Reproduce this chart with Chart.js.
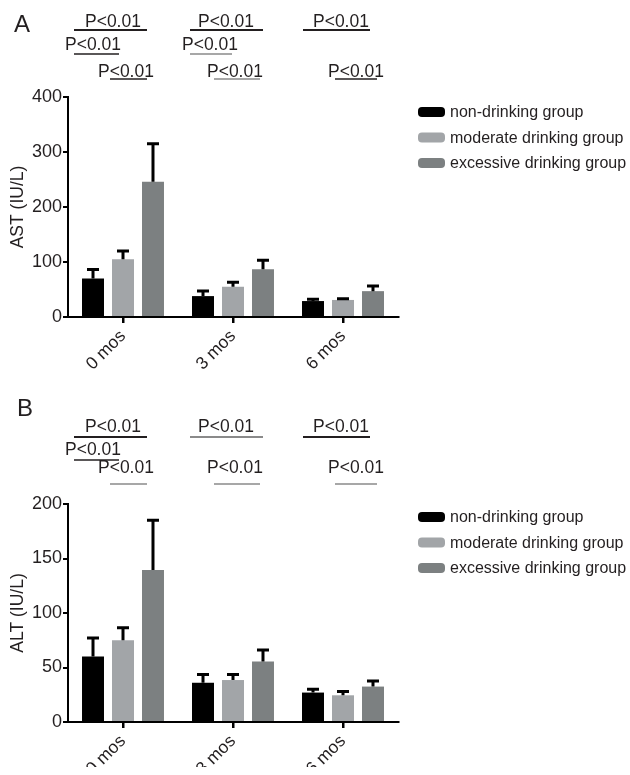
<!DOCTYPE html>
<html>
<head>
<meta charset="utf-8">
<script src="https://cdn.jsdelivr.net/npm/chart.js@4.4.1/dist/chart.umd.min.js"></script>
<style>
  html, body { margin: 0; padding: 0; background: #fff; }
  .panel { position: absolute; left: 0; width: 630px; }
  #panelA { top: 0; height: 390px; }
  #panelB { top: 390px; height: 385px; }
</style>
</head>
<body>
<div class="panel" id="panelA"><canvas id="chartA" width="630" height="390"></canvas></div>
<div class="panel" id="panelB"><canvas id="chartB" width="630" height="385"></canvas></div>
<script>
// kategorier og grupper
const months = ["0 mos", "3 mos", "6 mos"];
const groupNames = ["non-drinking group", "moderate drinking group", "excessive drinking group"];
const groupColors = ["#000000", "#a2a5a8", "#7c8081"];

// AST (IU/L): middelverdi og standardavvik (kun øvre feilstolpe vises)
const astNon = [70, 38, 29];
const astNonSd = [18, 11, 5];
const astModerate = [105, 55, 31];
const astModerateSd = [17, 10, 4];
const astExcessive = [246, 87, 47];
const astExcessiveSd = [71, 18, 11];
const astTicks = [0, 100, 200, 300, 400];

// ALT (IU/L)
const altNon = [60, 36, 27];
const altNonSd = [18, 8.5, 4];
const altModerate = [75, 38.5, 24.5];
const altModerateSd = [12.5, 6, 4.3];
const altExcessive = [139.5, 55.5, 32.5];
const altExcessiveSd = [46.5, 11.5, 6];
const altTicks = [0, 50, 100, 150, 200];

const sigText = "P<0.01";

const FONT = "'Liberation Sans', Arial, Helvetica, sans-serif";
const INK = "#231f20";
Chart.defaults.font.family = FONT;
Chart.defaults.color = INK;

// feilstolper oppover fra hver søyle
const errorBars = {
  id: "errorBars",
  afterDatasetsDraw(chart) {
    const ctx = chart.ctx;
    const y = chart.scales.y;
    ctx.save();
    ctx.strokeStyle = "#000";
    ctx.lineWidth = 3;
    chart.data.datasets.forEach((ds, i) => {
      chart.getDatasetMeta(i).data.forEach((bar, j) => {
        const top = y.getPixelForValue(ds.data[j] + ds.sd[j]);
        ctx.beginPath();
        ctx.moveTo(bar.x, bar.y);
        ctx.lineTo(bar.x, top);
        ctx.moveTo(bar.x - 6, top + 1);
        ctx.lineTo(bar.x + 6, top + 1);
        ctx.stroke();
      });
    });
    ctx.restore();
  }
};

// egen forklaring til høyre
const sideLegend = {
  id: "sideLegend",
  afterDraw(chart, args, opts) {
    const ctx = chart.ctx;
    const top = chart.chartArea.top + opts.offset;
    ctx.save();
    ctx.font = "16px " + FONT;
    ctx.textBaseline = "middle";
    chart.data.datasets.forEach((ds, i) => {
      const cy = top + i * 25.5;
      ctx.fillStyle = ds.backgroundColor;
      ctx.beginPath();
      ctx.roundRect(418, cy - 5, 27, 10, 4);
      ctx.fill();
      ctx.fillStyle = INK;
      ctx.fillText(ds.label, 450, cy + 1);
    });
    ctx.restore();
  }
};

// panelbokstav og signifikansmerker
const sigMarks = {
  id: "sigMarks",
  afterDraw(chart, args, opts) {
    const ctx = chart.ctx;
    const x = chart.scales.x;
    ctx.save();
    ctx.fillStyle = INK;
    ctx.font = "24px " + FONT;
    ctx.textBaseline = "alphabetic";
    ctx.fillText(opts.letter, opts.letterX, opts.letterY);
    ctx.font = "17.5px " + FONT;
    opts.marks.forEach(m => {
      const c = x.getPixelForValue(m.g);
      const row = opts.rows[m.row];
      ctx.fillStyle = INK;
      ctx.fillText(sigText, c + m.t, row.text);
      ctx.strokeStyle = m.gray ? "#8a8a8a" : "#231f20";
      ctx.lineWidth = m.row === 0 ? 2 : 1.6;
      ctx.beginPath();
      ctx.moveTo(c + m.a, row.line);
      ctx.lineTo(c + m.b, row.line);
      ctx.stroke();
    });
    ctx.restore();
  }
};

function makeDatasets(means, sds) {
  return means.map((d, i) => ({
    label: groupNames[i],
    data: d,
    sd: sds[i],
    backgroundColor: groupColors[i],
    borderWidth: 0,
    categoryPercentage: 0.818,
    barPercentage: 0.733
  }));
}

function addPanel(id, cfg) {
  return new Chart(document.getElementById(id), {
    type: "bar",
    data: { labels: months, datasets: makeDatasets(cfg.means, cfg.sds) },
    options: {
      responsive: false,
      animation: false,
      devicePixelRatio: 1,
      layout: { padding: { top: cfg.plotTop, right: 232, bottom: cfg.padBottom, left: 0 } },
      plugins: {
        legend: { display: false },
        tooltip: { enabled: false },
        sideLegend: { offset: cfg.legendOffset },
        sigMarks: cfg.sig
      },
      scales: {
        x: {
          afterFit(s) { s.height = cfg.xHeight; },
          border: { color: "#000", width: 2 },
          grid: { display: true, drawOnChartArea: false, offset: false, tickLength: 6, color: "#000", lineWidth: 2.5 },
          ticks: { minRotation: 45, maxRotation: 45, padding: 3, color: INK, font: { size: 17.5 } }
        },
        y: {
          min: 0,
          max: cfg.ticks[cfg.ticks.length - 1],
          afterFit(s) { s.width = 68; },
          afterBuildTicks(s) { s.ticks = cfg.ticks.map(v => ({ value: v })); },
          border: { color: "#000", width: 2 },
          grid: { display: true, drawOnChartArea: false, tickLength: 5, color: "#000", lineWidth: 2 },
          ticks: { padding: 1, color: INK, font: { size: 18 } },
          title: { display: true, text: cfg.title, color: INK, font: { size: 17.5 }, padding: { top: 8, bottom: 0 } }
        }
      }
    },
    plugins: [errorBars, sideLegend, sigMarks]
  });
}

let astChart = addPanel("chartA", {
  means: [astNon, astModerate, astExcessive],
  sds: [astNonSd, astModerateSd, astExcessiveSd],
  ticks: astTicks,
  title: "AST (IU/L)",
  plotTop: 97,
  padBottom: 13,
  xHeight: 60,
  legendOffset: 15,
  sig: {
    letter: "A", letterX: 14, letterY: 32,
    rows: [{ text: 27, line: 30 }, { text: 50, line: 54 }, { text: 77, line: 79 }],
    marks: [
      { g: 0, row: 0, t: -38, a: -49, b: 24 },
      { g: 1, row: 0, t: -35, a: -43, b: 30 },
      { g: 2, row: 0, t: -30, a: -40, b: 27 },
      { g: 0, row: 1, t: -58, a: -49, b: -4 },
      { g: 1, row: 1, t: -51, a: -43, b: -1, gray: true },
      { g: 0, row: 2, t: -25, a: -13, b: 24 },
      { g: 1, row: 2, t: -26, a: -19, b: 27, gray: true },
      { g: 2, row: 2, t: -15, a: -8, b: 34 }
    ]
  }
});

let altChart = addPanel("chartB", {
  means: [altNon, altModerate, altExcessive],
  sds: [altNonSd, altModerateSd, altExcessiveSd],
  ticks: altTicks,
  title: "ALT (IU/L)",
  plotTop: 114,
  padBottom: 8,
  xHeight: 45,
  legendOffset: 13,
  sig: {
    letter: "B", letterX: 17, letterY: 26,
    rows: [{ text: 42, line: 47 }, { text: 65, line: 70 }, { text: 83, line: 94 }],
    marks: [
      { g: 0, row: 0, t: -38, a: -49, b: 24 },
      { g: 1, row: 0, t: -35, a: -43, b: 30, gray: true },
      { g: 2, row: 0, t: -30, a: -40, b: 27 },
      { g: 0, row: 1, t: -58, a: -49, b: -4 },
      { g: 0, row: 2, t: -25, a: -13, b: 24, gray: true },
      { g: 1, row: 2, t: -26, a: -19, b: 27, gray: true },
      { g: 2, row: 2, t: -15, a: -8, b: 34, gray: true }
    ]
  }
});
</script>
</body>
</html>
